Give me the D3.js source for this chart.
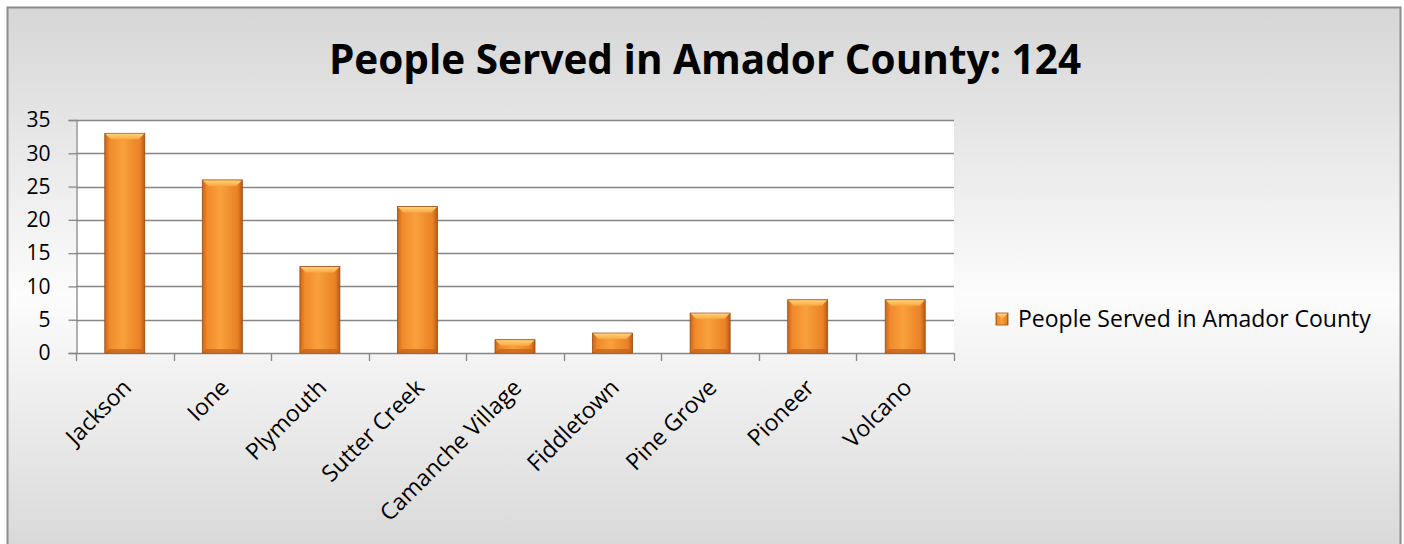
<!DOCTYPE html>
<html>
<head>
<meta charset="utf-8">
<script src="https://cdn.jsdelivr.net/npm/d3@7"></script>
<style>
  body { margin: 0; background: #fff; }
  svg { display: block; font-family: "Open Sans", "Noto Sans", sans-serif; }
</style>
</head>
<body>
<div id="chart"></div>
<script>
// data
const towns = ["Jackson", "Ione", "Plymouth", "Sutter Creek", "Camanche Village", "Fiddletown", "Pine Grove", "Pioneer", "Volcano"];
const served = [33, 26, 13, 22, 2, 3, 6, 8, 8];
const yTicks = [0, 5, 10, 15, 20, 25, 30, 35];
const seriesName = "People Served in Amador County";
const titleText = "People Served in Amador County: 124";

const width = 1404, height = 544;
const plot = { left: 76, right: 954, top: 120, bottom: 353 };

const svg = d3.select("#chart").append("svg")
    .attr("width", width)
    .attr("height", height);

const defs = svg.append("defs");

// chart background: grey -> white -> grey
const bg = defs.append("linearGradient").attr("id", "bg")
    .attr("x1", 0).attr("y1", 0).attr("x2", 0).attr("y2", 1);
bg.append("stop").attr("offset", "0%").attr("stop-color", "#d6d6d6");
bg.append("stop").attr("offset", "52%").attr("stop-color", "#fcfcfc");
bg.append("stop").attr("offset", "100%").attr("stop-color", "#d6d6d6");

// bar body: darker edges, lighter centre
const barGrad = defs.append("linearGradient").attr("id", "barGrad")
    .attr("x1", 0).attr("y1", 0).attr("x2", 1).attr("y2", 0);
barGrad.append("stop").attr("offset", "0%").attr("stop-color", "#c9651c");
barGrad.append("stop").attr("offset", "12%").attr("stop-color", "#f08a2a");
barGrad.append("stop").attr("offset", "45%").attr("stop-color", "#f9a03c");
barGrad.append("stop").attr("offset", "88%").attr("stop-color", "#ea8226");
barGrad.append("stop").attr("offset", "100%").attr("stop-color", "#b85a18");

const topGrad = defs.append("linearGradient").attr("id", "topGrad")
    .attr("x1", 0).attr("y1", 0).attr("x2", 0).attr("y2", 1);
topGrad.append("stop").attr("offset", "0%").attr("stop-color", "#ffd27a");
topGrad.append("stop").attr("offset", "100%").attr("stop-color", "#f9a83f");

svg.append("rect")
    .attr("x", 7.5).attr("y", 7.5)
    .attr("width", 1393).attr("height", 560)
    .attr("fill", "url(#bg)")
    .attr("stroke", "#8c8c8c")
    .attr("stroke-width", 2);

svg.append("text")
    .attr("x", 705).attr("y", 74)
    .attr("text-anchor", "middle")
    .attr("font-size", 40.5)
    .attr("font-weight", "bold")
    .attr("fill", "#000")
    .text(titleText);

const x = d3.scaleBand()
    .domain(towns)
    .range([plot.left, plot.right])
    .paddingInner(0.59)
    .paddingOuter(0.295);

const y = d3.scaleLinear()
    .domain([0, 35])
    .range([plot.bottom, plot.top]);

// plot area
svg.append("rect")
    .attr("x", plot.left).attr("y", plot.top)
    .attr("width", plot.right - plot.left)
    .attr("height", plot.bottom - plot.top)
    .attr("fill", "#fff");

// gridlines
svg.append("g")
    .selectAll("line")
    .data(yTicks.filter(d => d > 0))
    .enter().append("line")
    .attr("x1", plot.left).attr("x2", plot.right)
    .attr("y1", d => Math.round(y(d)) + 0.5)
    .attr("y2", d => Math.round(y(d)) + 0.5)
    .attr("stroke", "#868686")
    .attr("stroke-width", 1.3);

// y axis
const yAxis = svg.append("g")
    .attr("transform", `translate(${plot.left + 0.5},0)`)
    .call(d3.axisLeft(y).tickValues(yTicks).tickSize(8).tickPadding(18));
yAxis.selectAll("path, line").attr("stroke", "#868686").attr("stroke-width", 1.3);
yAxis.selectAll("text").attr("font-size", 21).attr("fill", "#000")
    .attr("font-family", "'Open Sans', sans-serif");

// x axis: ticks on category boundaries
const step = x.step();
const bounds = d3.range(towns.length + 1).map(i => plot.left + i * step);
const xAxis = svg.append("g");
xAxis.append("line")
    .attr("x1", plot.left).attr("x2", plot.right)
    .attr("y1", plot.bottom + 0.5).attr("y2", plot.bottom + 0.5)
    .attr("stroke", "#868686").attr("stroke-width", 1.3);
xAxis.selectAll(".tk")
    .data(bounds)
    .enter().append("line")
    .attr("class", "tk")
    .attr("x1", d => Math.round(d) + 0.5).attr("x2", d => Math.round(d) + 0.5)
    .attr("y1", plot.bottom).attr("y2", plot.bottom + 8)
    .attr("stroke", "#868686").attr("stroke-width", 1.3);
xAxis.selectAll(".lbl")
    .data(towns)
    .enter().append("text")
    .attr("class", "lbl")
    .attr("text-anchor", "end")
    .attr("font-size", 23)
    .attr("fill", "#000")
    .attr("transform", d => `translate(${x(d) + x.bandwidth() / 2 + 8},${plot.bottom + 36}) rotate(-45)`)
    .text(d => d);

// bars
const bars = svg.append("g")
    .selectAll("g")
    .data(towns.map((t, i) => ({ town: t, value: served[i] })))
    .enter().append("g");

bars.append("rect")
    .attr("x", d => x(d.town))
    .attr("y", d => y(d.value))
    .attr("width", x.bandwidth())
    .attr("height", d => y(0) - y(d.value))
    .attr("fill", "url(#barGrad)")
    .attr("stroke", "#9c4c14")
    .attr("stroke-width", 0.8);

// bevelled top
bars.append("path")
    .attr("d", d => {
        const x0 = x(d.town), x1 = x0 + x.bandwidth(), yt = y(d.value);
        const b = Math.min(6, (y(0) - yt) / 2);
        return `M${x0 + 0.5},${yt + 0.5} L${x1 - 0.5},${yt + 0.5} L${x1 - b},${yt + b} L${x0 + b},${yt + b} Z`;
    })
    .attr("fill", "url(#topGrad)");

// bottom shade
bars.append("path")
    .attr("d", d => {
        const x0 = x(d.town), x1 = x0 + x.bandwidth(), yb = y(0);
        const b = Math.min(4, (yb - y(d.value)) / 2);
        return `M${x0 + 0.5},${yb - 0.5} L${x1 - 0.5},${yb - 0.5} L${x1 - b},${yb - b} L${x0 + b},${yb - b} Z`;
    })
    .attr("fill", "#c06018")
    .attr("opacity", 0.7);

// legend
const legend = svg.append("g").attr("transform", "translate(996,313)");
legend.append("rect")
    .attr("width", 12).attr("height", 12)
    .attr("fill", "url(#barGrad)")
    .attr("stroke", "#9c4c14").attr("stroke-width", 0.8);
legend.append("path")
    .attr("d", "M0.5,0.5 L11.5,0.5 L6,6 Z")
    .attr("fill", "url(#topGrad)");
legend.append("text")
    .attr("x", 22).attr("y", 14)
    .attr("font-size", 23)
    .attr("fill", "#000")
    .text(seriesName);
</script>
</body>
</html>
